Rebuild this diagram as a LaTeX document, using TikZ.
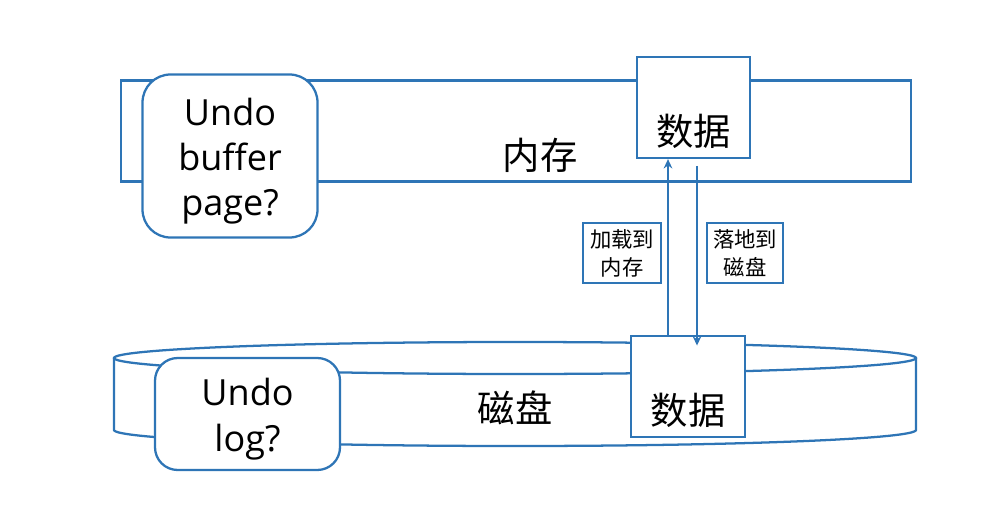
\documentclass[tikz,border=0pt]{standalone}
\usepackage{fontspec}
\setmainfont{Open Sans}
\newfontfamily\cjk{Noto Sans CJK SC}
\usetikzlibrary{arrows.meta}
\definecolor{lineblue}{RGB}{46,117,182}
\tikzset{
  blueline/.style={draw=lineblue, line width=1.7pt},
  plainbox/.style={blueline, fill=white, inner sep=0pt},
  roundbox/.style={blueline, fill=white, inner sep=0pt, rounded corners=20pt},
  latintext/.style={align=center, inner sep=0pt, font=\fontsize{27}{34}\selectfont},
  smallbox/.style={blueline, fill=white, inner sep=0pt, align=center, font=\cjk\fontsize{16}{21}\selectfont},
  bigcjk/.style={font=\cjk\fontsize{28}{32}\selectfont, inner sep=0pt},
  arr/.style={lineblue, line width=1.7pt, -{Stealth[length=7pt,width=6.5pt]}}
}
\begin{document}
\begin{tikzpicture}[x=0.75pt,y=-0.75pt]
\useasboundingbox (0,0) rectangle (998,513);
% memory bar
\node[plainbox, minimum width=790*0.75pt, minimum height=101*0.75pt] (mem) at (516,131) {};
\node[bigcjk] (memtxt) at (540,155) {内存};
\node[roundbox, minimum width=175*0.75pt, minimum height=163*0.75pt, rounded corners=21pt] (ubp) at (230,156) {};
\node[latintext] (ubptxt) at (230,161) {Undo\\buffer\\page?};
\node[plainbox, minimum width=113*0.75pt, minimum height=101*0.75pt] (dtop) at (693.5,107.5) {};
\node[bigcjk] (dtoptxt) at (693.5,131) {数据};
% disk cylinder
\draw[blueline, fill=white] (114,358) -- (114,430) arc[start angle=180, end angle=0, x radius=401, y radius=16] -- (916,358);
\draw[blueline] (515,358) ellipse[x radius=401, y radius=16];
\node[bigcjk] (disktxt) at (515,408) {磁盘};
\node[roundbox, minimum width=185*0.75pt, minimum height=112*0.75pt, rounded corners=17pt] (ulog) at (247.5,414) {};
\node[latintext] (ulogtxt) at (247.5,419) {Undo\\log?};
\node[plainbox, minimum width=114*0.75pt, minimum height=101*0.75pt] (dbot) at (688,386.5) {};
\node[bigcjk] (dbottxt) at (688,410) {数据};
% arrows
\coordinate (upx) at (668,0);
\coordinate (dnx) at (697,0);
\draw[arr] (upx |- dbot.north) -- (upx |- dtop.south);
\draw[arr, shorten <=5pt, shorten >=-8pt] (dnx |- dtop.south) -- (dnx |- dbot.north);
% labels
\node[smallbox, minimum width=78*0.75pt, minimum height=60*0.75pt] (lload) at (622,253) {加载到\\内存};
\node[smallbox, minimum width=76*0.75pt, minimum height=60*0.75pt] (lsave) at (745,253) {落地到\\磁盘};
\end{tikzpicture}
\end{document}
